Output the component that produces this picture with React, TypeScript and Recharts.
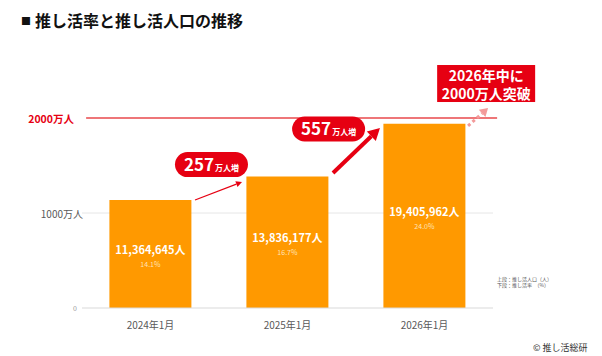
import React from 'react';
import {
  BarChart, Bar, XAxis, YAxis, CartesianGrid, ReferenceLine, ReferenceDot, LabelList,
} from 'recharts';

const categories = ['2024年1月', '2025年1月', '2026年1月'];
const population = [11364645, 13836177, 19405962];
const rate = [14.1, 16.7, 24.0];
const yTicks = [0, 10000000, 20000000];
const increases = [257, 557];

const data = categories.map((c, i) => ({ name: c, pos: i + 0.5, pop: population[i], pct: rate[i] }));

const RED = '#e60012';
const ORANGE = '#ff9900';
const FONT = '"Noto Sans CJK JP", "Noto Sans", sans-serif';

const makeArrow = (color: string, width: number, headLen: number, headHalf: number, dash?: string) =>
  (props: any) => {
    const { x1, y1, x2, y2 } = props;
    const a = Math.atan2(y2 - y1, x2 - x1);
    const bx = x2 - headLen * Math.cos(a);
    const by = y2 - headLen * Math.sin(a);
    const p1 = `${x2},${y2}`;
    const p2 = `${bx + headHalf * Math.sin(a)},${by - headHalf * Math.cos(a)}`;
    const p3 = `${bx - headHalf * Math.sin(a)},${by + headHalf * Math.cos(a)}`;
    return (
      <g>
        <line x1={x1} y1={y1} x2={bx} y2={by} stroke={color} strokeWidth={width} strokeDasharray={dash} />
        <polygon points={`${p1} ${p2} ${p3}`} fill={color} />
      </g>
    );
  };

const pillShape = (value: number) => (props: any) => {
  const { cx, cy } = props;
  return (
    <g>
      <rect x={cx - 36.5} y={cy - 12.5} width={73} height={25} rx={12.5} fill={RED} />
      <text x={cx} y={cy} dy={6} textAnchor="middle" fill="#fff" fontFamily={FONT} fontWeight="bold">
        <tspan fontSize={17}>{value}</tspan>
        <tspan fontSize={8} dx={1}>万人増</tspan>
      </text>
    </g>
  );
};

const boxShape = (props: any) => {
  const { cx, cy } = props;
  return (
    <g>
      <rect x={cx - 49} y={cy - 18.5} width={98} height={37} fill={RED} />
      <text x={cx} y={cy - 8.5} dominantBaseline="central" textAnchor="middle" fill="#fff" fontFamily={FONT} fontWeight="bold" fontSize={14}>2026年中に</text>
      <text x={cx} y={cy + 9} dominantBaseline="central" textAnchor="middle" fill="#fff" fontFamily={FONT} fontWeight="bold" fontSize={14}>2000万人突破</text>
    </g>
  );
};

const YTick = (props: any) => {
  const { x, y, payload } = props;
  const v = payload.value;
  if (v === 0) {
    return <text x={x - 5} y={y} dominantBaseline="central" textAnchor="end" fontSize={7} fill="#999" fontFamily={FONT}>0</text>;
  }
  if (v === 20000000) {
    return <text x={x - 8} y={y} dominantBaseline="central" textAnchor="end" fontSize={10.5} fontWeight="bold" fill={RED} fontFamily={FONT}>2000万人</text>;
  }
  return <text x={x + 1} y={y} dominantBaseline="central" textAnchor="end" fontSize={10} fill="#595959" fontFamily={FONT}>{`${v / 10000}万人`}</text>;
};

const popLabel = (props: any) => {
  const { x, y, width, height, value } = props;
  return (
    <text x={x + width / 2} y={y + height / 2 - 5} dominantBaseline="central" textAnchor="middle" fill="#fff" fontWeight="bold" fontSize={11} fontFamily={FONT}>
      {`${Number(value).toLocaleString('en-US')}人`}
    </text>
  );
};

const pctLabel = (props: any) => {
  const { x, y, width, height, value } = props;
  return (
    <text x={x + width / 2} y={y + height / 2 + 10} dominantBaseline="central" textAnchor="middle" fill="#ffe3b8" fontSize={7} fontFamily={FONT}>
      {`${Number(value).toFixed(1)}%`}
    </text>
  );
};

export default function App() {
  return (
    <div style={{ position: 'absolute', left: 0, top: 0, width: 602, height: 356, background: '#fff', fontFamily: FONT }}>
      <div style={{ position: 'absolute', left: 21, top: 8, fontSize: 16, fontWeight: 'bold', color: '#111', whiteSpace: 'nowrap', lineHeight: '24px' }}>
        <span style={{ fontSize: 10, verticalAlign: '2px', marginRight: 4 }}>■</span>推し活率と推し活人口の推移
      </div>
      <BarChart width={602} height={356} data={data} margin={{ top: 61, right: 109, bottom: 18, left: 0 }} barCategoryGap="20%">
        <CartesianGrid vertical={false} stroke="#e6e6e6" horizontalValues={[10000000]} />
        <XAxis dataKey="name" height={30} tickLine={false} tickSize={0} tickMargin={14} axisLine={{ stroke: '#d9d9d9' }}
          tick={{ fontSize: 10, fill: '#595959', fontFamily: FONT }} />
        <XAxis xAxisId="n" dataKey="pos" type="number" domain={[0, 3]} allowDataOverflow hide />
        <YAxis width={82} domain={[0, 26000000]} ticks={yTicks} allowDataOverflow tickLine={false} axisLine={false} tickSize={0} tickMargin={0} tick={<YTick />} />
        <Bar dataKey="pop" fill={ORANGE} isAnimationActive={false}>
          <LabelList dataKey="pop" content={popLabel} />
          <LabelList dataKey="pct" content={pctLabel} />
        </Bar>
        <ReferenceLine xAxisId="n" ifOverflow="visible" stroke="#e8484b" strokeWidth={1.5}
          segment={[{ x: 0.03, y: 20000000 }, { x: 3.03, y: 20000000 }]} />
        <ReferenceLine xAxisId="n" ifOverflow="visible"
          segment={[{ x: 0.825, y: 11370000 }, { x: 1.168, y: 13260000 }]}
          shape={makeArrow(RED, 1.2, 6, 3)} />
        <ReferenceLine xAxisId="n" ifOverflow="visible"
          segment={[{ x: 1.832, y: 14210000 }, { x: 2.175, y: 18950000 }]}
          shape={makeArrow(RED, 4, 12, 6.5)} />
        <ReferenceLine xAxisId="n" ifOverflow="visible"
          segment={[{ x: 2.818, y: 19160000 }, { x: 2.964, y: 21050000 }]}
          shape={makeArrow('#f39a9a', 3, 8, 5, '3 3')} />
        <ReferenceDot xAxisId="n" x={0.945} y={15100000} ifOverflow="visible" shape={pillShape(increases[0])} />
        <ReferenceDot xAxisId="n" x={1.80} y={18840000} ifOverflow="visible" shape={pillShape(increases[1])} />
        <ReferenceDot xAxisId="n" x={2.95} y={23630000} ifOverflow="visible" shape={boxShape} />
      </BarChart>
      <div style={{ position: 'absolute', left: 497, top: 276, fontSize: 5, lineHeight: '6px', color: '#555', whiteSpace: 'nowrap' }}>
        上段：推し活人口（人）<br />下段：推し活率　（%）
      </div>
      <div style={{ position: 'absolute', left: 533, top: 342, fontSize: 9, lineHeight: '12px', color: '#333', whiteSpace: 'nowrap' }}>
        © 推し活総研
      </div>
    </div>
  );
}
